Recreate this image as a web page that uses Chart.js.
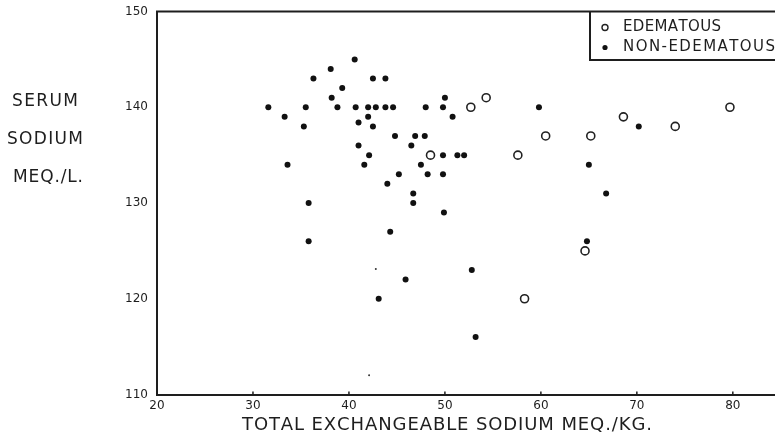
<!DOCTYPE html>
<html>
<head>
<meta charset="utf-8">
<script src="https://cdn.jsdelivr.net/npm/chart.js@4"></script>
<style>
    html, body { margin: 0; padding: 0; background: #fff; overflow: hidden; }
    #wrap { width: 775px; height: 437px; overflow: hidden; }
</style>
</head>
<body>
<div id="wrap"><canvas id="sodiumChart" width="810" height="437"></canvas></div>
<script>
// Total exchangeable sodium (mEq/kg) vs serum sodium (mEq/L)
const edematousX = [48.5, 52.7, 54.3, 57.6, 58.3, 60.5, 64.6, 65.2, 68.6, 74.0, 79.7];
const edematousY = [135, 140, 141, 135, 120, 137, 125, 137, 139, 138, 140];

const nonEdematousX = [
    31.6, 33.3, 33.6, 35.5, 35.3, 35.8, 35.8, 36.3, 38.1, 38.2, 38.8, 39.3,
    40.6, 40.7, 41.0, 41.0, 41.6, 42.0, 42.0, 42.5, 42.5, 42.1, 42.8, 43.8,
    43.8, 44.6, 44.8, 44.0, 45.2, 46.5, 46.9, 47.9, 47.5, 46.7, 46.7, 48.0,
    48.2, 49.8, 50.0, 50.8, 49.8, 51.3, 52.0, 49.8, 49.9, 44.3, 43.1, 45.9,
    52.8, 53.2, 59.8, 64.8, 65.0, 66.8, 70.2
];
const nonEdematousY = [
    140, 139, 134, 140, 138, 130, 126, 143, 144, 141, 140, 142,
    145, 140, 138.4, 136, 134, 140, 139, 143, 138, 135, 140, 143,
    140, 140, 137, 132, 133, 136, 137, 137, 134, 131, 130, 140,
    133, 140, 141, 139, 135, 135, 135, 133, 129, 127, 120, 122,
    123, 116, 140, 126, 134, 131, 138
];

// stray specks on the sheet
const speckX = [42.8, 42.1];
const speckY = [123.1, 112.0];

const xTicks = [20, 30, 40, 50, 60, 70, 80];
const yTicks = [110, 120, 130, 140, 150];

const seriesNames = ['EDEMATOUS', 'NON-EDEMATOUS'];
const xTitle = 'TOTAL EXCHANGEABLE SODIUM MEQ./KG.';
const yTitle = ['SERUM', 'SODIUM', 'MEQ./L.'];

const ink = '#1e1e1e';
const fontFamily = '"DejaVu Sans", sans-serif';

function toPoints(xs, ys) {
    return xs.map((x, i) => ({ x: x, y: ys[i] }));
}

// draw a line of text stretched (letter by letter) to a given width
function spacedText(ctx, text, x, y, width) {
    const chars = [...text];
    const widths = chars.map(c => ctx.measureText(c).width);
    const total = widths.reduce((a, b) => a + b, 0);
    const gap = chars.length > 1 ? (width - total) / (chars.length - 1) : 0;
    let cx = x;
    chars.forEach((c, i) => {
        ctx.fillText(c, cx, y);
        cx += widths[i] + gap;
    });
}

// frame top line, inward ticks, axis titles and boxed legend
const decorations = {
    id: 'decorations',
    afterDraw(chart) {
        const { ctx, chartArea, scales } = chart;
        const { left, right, top, bottom } = chartArea;
        ctx.save();
        ctx.strokeStyle = ink;
        ctx.fillStyle = ink;

        // top of the frame
        ctx.lineWidth = 2;
        ctx.beginPath();
        ctx.moveTo(left - 1, top);
        ctx.lineTo(right + 10, top);
        ctx.stroke();

        // small inward ticks on the x axis
        ctx.lineWidth = 1.5;
        xTicks.forEach(v => {
            const px = scales.x.getPixelForValue(v);
            ctx.beginPath();
            ctx.moveTo(px, bottom);
            ctx.lineTo(px, bottom - 3);
            ctx.stroke();
        });

        // y title, written horizontally in three lines
        ctx.textBaseline = 'middle';
        ctx.font = '17px ' + fontFamily;
        const yWidths = [66, 76, 70];
        const yOffsets = [90, 128, 166];
        yTitle.forEach((line, i) => {
            spacedText(ctx, line, 45 - yWidths[i] / 2 + (i === 2 ? 3 : 0), top + yOffsets[i], yWidths[i]);
        });

        // x title
        ctx.font = '18px ' + fontFamily;
        spacedText(ctx, xTitle, 242, bottom + 31, 410);

        // legend box hanging from the top frame
        const boxLeft = right - 210;
        const boxBottom = top + 48.5;
        ctx.lineWidth = 2;
        ctx.beginPath();
        ctx.moveTo(boxLeft, top);
        ctx.lineTo(boxLeft, boxBottom);
        ctx.lineTo(right + 10, boxBottom);
        ctx.stroke();

        ctx.font = '15px ' + fontFamily;
        const rows = [top + 16, top + 36];
        const textWidths = [98, 152];
        chart.data.datasets.slice(0, 2).forEach((ds, i) => {
            ctx.beginPath();
            ctx.arc(boxLeft + 15, rows[i], i === 0 ? 3 : 2.6, 0, Math.PI * 2);
            if (i === 0) {
                ctx.fillStyle = '#fff';
                ctx.fill();
                ctx.lineWidth = 1.4;
                ctx.strokeStyle = ds.pointBorderColor;
                ctx.stroke();
            } else {
                ctx.fillStyle = ds.pointBackgroundColor;
                ctx.fill();
            }
            ctx.fillStyle = ink;
            spacedText(ctx, ds.label, boxLeft + 33, rows[i], textWidths[i]);
        });

        ctx.restore();
    }
};

document.addEventListener('DOMContentLoaded', () => {
    const ctx = document.getElementById('sodiumChart').getContext('2d');

    new Chart(ctx, {
        type: 'scatter',
        data: {
            datasets: [{
                label: seriesNames[0],
                data: toPoints(edematousX, edematousY),
                pointRadius: 4,
                pointBackgroundColor: '#ffffff',
                pointBorderColor: '#222222',
                pointBorderWidth: 1.6
            }, {
                label: seriesNames[1],
                data: toPoints(nonEdematousX, nonEdematousY),
                pointRadius: 3,
                pointBackgroundColor: '#111111',
                pointBorderColor: '#111111',
                pointBorderWidth: 0
            }, {
                label: 'specks',
                data: toPoints(speckX, speckY),
                pointRadius: 1,
                pointBackgroundColor: '#333333',
                pointBorderWidth: 0
            }]
        },
        options: {
            responsive: false,
            animation: false,
            layout: {
                padding: { top: 11.5, right: 10, left: 0, bottom: 0 }
            },
            plugins: {
                legend: { display: false },
                tooltip: { enabled: false }
            },
            scales: {
                x: {
                    type: 'linear',
                    min: 20,
                    max: 87,
                    afterFit: scale => { scale.height = 42.5; },
                    afterBuildTicks: scale => {
                        scale.ticks = xTicks.map(v => ({ value: v }));
                    },
                    grid: { display: false },
                    border: { color: ink, width: 2 },
                    ticks: {
                        color: ink,
                        padding: -4,
                        font: { family: fontFamily, size: 12 }
                    }
                },
                y: {
                    min: 110,
                    max: 150,
                    afterFit: scale => { scale.width = 157; },
                    afterBuildTicks: scale => {
                        scale.ticks = yTicks.map(v => ({ value: v }));
                    },
                    grid: { display: false },
                    border: { color: ink, width: 2 },
                    ticks: {
                        color: ink,
                        padding: 1,
                        font: { family: fontFamily, size: 12 }
                    }
                }
            }
        },
        plugins: [decorations]
    });
});
</script>
</body>
</html>
